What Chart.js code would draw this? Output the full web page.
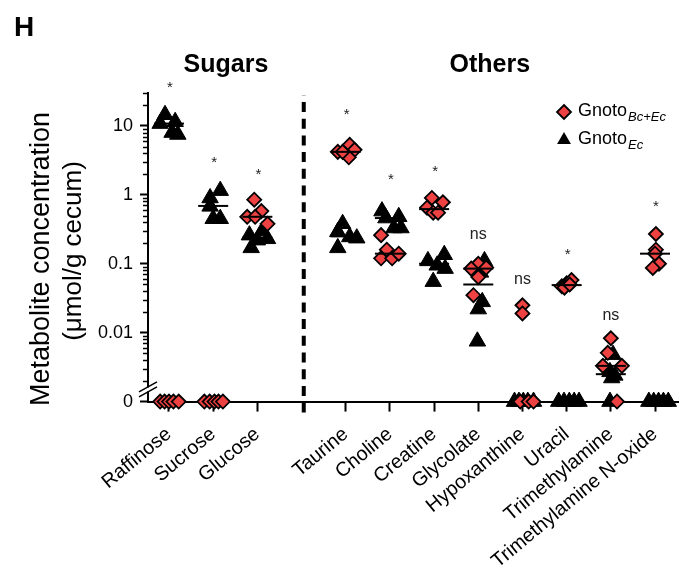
<!DOCTYPE html>
<html>
<head>
<meta charset="utf-8">
<script src="https://cdn.jsdelivr.net/npm/chart.js"></script>
<style>
  html, body { margin: 0; padding: 0; background: #fff; }
  #wrap { position: relative; width: 700px; height: 575px; }
</style>
</head>
<body>
<div id="wrap"><canvas id="chart" width="700" height="575"></canvas></div>
<script>
// categories and their slot on the x axis (slot 3 holds the dashed divider)
const categories = ['Raffinose', 'Sucrose', 'Glucose', 'Taurine', 'Choline', 'Creatine', 'Glycolate', 'Hypoxanthine', 'Uracil', 'Trimethylamine', 'Trimethylamine N-oxide']
const catPos = [0, 1, 2, 4, 5, 6, 7, 8, 9, 10, 11]
const dividerPos = 3.05

// Gnoto Bc+Ec (red diamonds), umol/g cecum, 0 = not detected
const bcValues = [
	[0, 0, 0, 0, 0],
	[0, 0, 0, 0, 0],
	[0.85, 0.58, 0.48, 0.48, 0.38],
	[4.2, 5.3, 4.5, 3.5, 4.2],
	[0.26, 0.16, 0.12, 0.12, 0.14],
	[0.9, 0.78, 0.65, 0.55, 0.55],
	[0.1, 0.085, 0.088, 0.064, 0.035],
	[0.025, 0.019, 0, 0, 0],
	[0.047, 0.052, 0.058, 0.045, 0.05],
	[0.0083, 0.0051, 0.0033, 0.0033, 0],
	[0.27, 0.16, 0.14, 0.1, 0.087],
]
const bcJitter = [
	[-0.2, -0.1, 0, 0.1, 0.22],
	[-0.2, -0.08, 0.03, 0.12, 0.22],
	[-0.07, 0.09, -0.23, -0.05, 0.23],
	[-0.18, 0.09, 0.2, 0.07, -0.07],
	[-0.2, -0.07, -0.2, 0.05, 0.2],
	[-0.05, 0.2, -0.16, -0.02, 0.09],
	[0, -0.16, 0.18, 0, -0.11],
	[0, 0, -0.05, 0.14, 0.25],
	[-0.11, 0, 0.11, -0.05, 0.07],
	[0, -0.07, -0.18, 0.25, 0.14],
	[0.02, 0.02, 0, 0.09, -0.05],
]

// Gnoto Ec (black triangles)
const ecValues = [
	[14.5, 11.5, 10.8, 8, 7.5],
	[1.15, 0.9, 0.68, 0.45, 0.45],
	[0.26, 0.17, 0.3, 0.23, 0.22],
	[0.38, 0.29, 0.17, 0.245, 0.235],
	[0.58, 0.46, 0.48, 0.33, 0.33],
	[0.11, 0.135, 0.095, 0.085, 0.055],
	[0.11, 0.075, 0.028, 0.022, 0.0075],
	[0, 0, 0, 0, 0],
	[0, 0, 0, 0, 0],
	[0.0048, 0.0027, 0.0024, 0.0022, 0],
	[0, 0, 0, 0, 0],
]
const ecJitter = [
	[-0.09, 0.14, -0.2, 0.07, 0.2],
	[0.16, -0.07, -0.07, 0, 0.16],
	[-0.18, -0.14, 0.11, 0.23, 0],
	[-0.07, -0.18, -0.18, 0.09, 0.25],
	[-0.18, -0.09, 0.2, 0.09, 0.25],
	[-0.14, 0.23, 0.07, 0.25, -0.02],
	[0.14, 0.05, 0.09, 0, -0.02],
	[-0.18, -0.08, 0.02, 0.12, 0.25],
	[-0.18, -0.06, 0.06, 0.17, 0.28],
	[0.05, -0.02, 0.09, 0.02, -0.02],
	[-0.14, -0.03, 0.08, 0.19, 0.3],
]

// medians (null = sits on the zero line, not shown)
const bcMedian = [null, null, 0.48, 4.2, 0.14, 0.62, 0.085, null, 0.049, 0.0033, 0.14]
const ecMedian = [10.8, 0.69, 0.24, 0.25, 0.46, 0.1, 0.05, null, null, 0.0025, null]

// significance marks above each metabolite
const sigLabels = ['*', '*', '*', '*', '*', '*', 'ns', 'ns', '*', 'ns', '*']
const sigValues = [39, 3.2, 2.15, 16, 1.82, 2.38, 0.262, 0.058, 0.148, 0.0175, 0.74]

// y axis: the bottom of the log axis stands in for zero
const yMin = 0.001
const yMax = 30
const yMajor = [0.001, 0.01, 0.1, 1, 10]
const yMajorLabels = ['0', '0.01', '0.1', '1', '10']
const minorDecades = [0.001, 0.01, 0.1, 1]
const minorSteps = [2, 3, 4, 5, 6, 7, 8, 9]
const minorTop = [20, 30]
const breakAt = 0.0015

const groupTitles = ['Sugars', 'Others']
const groupTitlePos = [1.29, 7.26]

const FONT = "'Liberation Sans', Arial, Helvetica, sans-serif"
const RED = '#ee4242'

function toPoints(values, jitter) {
	const out = []
	values.forEach((group, i) => {
		group.forEach((v, j) => {
			out.push({ x: catPos[i] + jitter[i][j], y: v === 0 ? yMin : v })
		})
	})
	return out
}

function toMedians(meds) {
	const out = []
	meds.forEach((m, i) => {
		if (m !== null) out.push({ x: catPos[i], y: m })
	})
	return out
}

// extra drawing: minor ticks, axis break, divider, labels, legend
const decor = {
	id: 'decor',
	afterDraw(chart) {
		const ctx = chart.ctx
		const x = chart.scales.x
		const y = chart.scales.y
		const area = chart.chartArea
		ctx.save()

		// minor ticks
		ctx.strokeStyle = '#000'
		ctx.lineWidth = 1.5
		const minors = []
		minorDecades.forEach((d) => minorSteps.forEach((s) => minors.push(d * s)))
		minorTop.forEach((v) => minors.push(v))
		minors.forEach((v) => {
			const py = Math.round(y.getPixelForValue(v)) + 0.5
			ctx.beginPath()
			ctx.moveTo(area.left - 5, py)
			ctx.lineTo(area.left, py)
			ctx.stroke()
		})

		// axis break
		const by = y.getPixelForValue(breakAt)
		ctx.fillStyle = '#fff'
		ctx.fillRect(area.left - 2, by - 2, 4, 4)
		ctx.lineWidth = 1.5
		;[-2.5, 2.5].forEach((d) => {
			ctx.beginPath()
			ctx.moveTo(area.left - 9, by + d + 5)
			ctx.lineTo(area.left + 9, by + d - 5)
			ctx.stroke()
		})

		// dashed divider between sugars and others
		const dx = x.getPixelForValue(dividerPos)
		ctx.lineWidth = 4
		ctx.setLineDash([10, 6.7])
		ctx.beginPath()
		ctx.moveTo(dx, area.bottom + 11)
		ctx.lineTo(dx, area.top + 2)
		ctx.stroke()
		ctx.setLineDash([])

		// significance marks
		ctx.fillStyle = '#222'
		ctx.textAlign = 'center'
		ctx.textBaseline = 'middle'
		sigLabels.forEach((t, i) => {
			const px = x.getPixelForValue(catPos[i])
			const py = y.getPixelForValue(sigValues[i])
			if (t === '*') {
				ctx.font = `15px ${FONT}`
				ctx.fillText(t, px + 1, py + 3)
			} else {
				ctx.font = `16px ${FONT}`
				ctx.fillText(t, px, py)
			}
		})

		// group titles
		ctx.fillStyle = '#000'
		ctx.textBaseline = 'alphabetic'
		ctx.font = `bold 25px ${FONT}`
		groupTitles.forEach((t, i) => {
			ctx.fillText(t, x.getPixelForValue(groupTitlePos[i]), 72)
		})

		// panel letter
		ctx.textAlign = 'left'
		ctx.font = `bold 28px ${FONT}`
		ctx.fillText('H', 14, 36)

		// y axis title
		ctx.save()
		ctx.translate(49, 259)
		ctx.rotate(-Math.PI / 2)
		ctx.textAlign = 'center'
		ctx.font = `27px ${FONT}`
		ctx.fillText('Metabolite concentration', 0, 0)
		ctx.restore()
		ctx.save()
		ctx.translate(81, 251)
		ctx.rotate(-Math.PI / 2)
		ctx.textAlign = 'center'
		ctx.font = `26px ${FONT}`
		ctx.fillText('(μmol/g cecum)', 0, 0)
		ctx.restore()

		// legend
		const lx = 564
		ctx.lineWidth = 1.8
		ctx.fillStyle = RED
		ctx.beginPath()
		ctx.moveTo(lx, 112 - 7)
		ctx.lineTo(lx + 7, 112)
		ctx.lineTo(lx, 112 + 7)
		ctx.lineTo(lx - 7, 112)
		ctx.closePath()
		ctx.fill()
		ctx.stroke()
		ctx.fillStyle = '#000'
		const tr = 8
		ctx.beginPath()
		ctx.moveTo(lx, 140 - tr)
		ctx.lineTo(lx + tr * 0.866, 140 + tr / 2)
		ctx.lineTo(lx - tr * 0.866, 140 + tr / 2)
		ctx.closePath()
		ctx.fill()

		ctx.textAlign = 'left'
		ctx.font = `18px ${FONT}`
		ctx.fillText('Gnoto', 578, 116)
		ctx.fillText('Gnoto', 578, 144)
		const gw = ctx.measureText('Gnoto').width
		ctx.font = `italic 13px ${FONT}`
		ctx.fillText('Bc+Ec', 578 + gw + 1, 121)
		ctx.fillText('Ec', 578 + gw + 1, 149)

		ctx.restore()
	},
}

const ctx = document.getElementById('chart').getContext('2d')
new Chart(ctx, {
	type: 'scatter',
	data: {
		datasets: [
			{
				label: 'Gnoto Ec',
				data: toPoints(ecValues, ecJitter),
				pointStyle: 'triangle',
				pointRadius: 9.5,
				pointHoverRadius: 9.5,
				pointBackgroundColor: '#000',
				pointBorderColor: '#000',
				pointBorderWidth: 1,
				order: 3,
				clip: false,
			},
			{
				label: 'Gnoto Bc+Ec',
				data: toPoints(bcValues, bcJitter),
				pointStyle: 'rectRot',
				pointRadius: 7,
				pointHoverRadius: 7,
				pointBackgroundColor: RED,
				pointBorderColor: '#000',
				pointBorderWidth: 1.8,
				order: 2,
				clip: false,
			},
			{
				label: 'median Ec',
				data: toMedians(ecMedian),
				pointStyle: 'line',
				pointRadius: 15,
				pointBorderColor: '#000',
				pointBorderWidth: 2,
				order: 1,
				clip: false,
			},
			{
				label: 'median Bc+Ec',
				data: toMedians(bcMedian),
				pointStyle: 'line',
				pointRadius: 15,
				pointBorderColor: '#000',
				pointBorderWidth: 2,
				order: 0,
				clip: false,
			},
		],
	},
	options: {
		responsive: false,
		animation: false,
		events: [],
		layout: { padding: { top: 93, right: 22, left: 0, bottom: 0 } },
		plugins: {
			legend: { display: false },
			tooltip: { enabled: false },
		},
		scales: {
			x: {
				type: 'linear',
				min: -0.475,
				max: 11.52,
				afterBuildTicks: (scale) => {
					scale.ticks = catPos.map((v) => ({ value: v }))
				},
				afterFit: (scale) => {
					scale.height = 173.4
				},
				ticks: {
					callback: (value, index) => categories[index],
					minRotation: 39.5,
					maxRotation: 39.5,
					autoSkip: false,
					padding: 11,
					color: '#000',
					font: { family: FONT, size: 19.8 },
				},
				grid: {
					drawOnChartArea: false,
					drawTicks: true,
					tickLength: 10,
					tickColor: '#000',
					tickWidth: 2,
				},
				border: { display: true, color: '#000', width: 2 },
			},
			y: {
				type: 'logarithmic',
				min: yMin,
				max: yMax,
				afterBuildTicks: (scale) => {
					scale.ticks = yMajor.map((v) => ({ value: v, major: true }))
				},
				afterFit: (scale) => {
					scale.width = 148
				},
				ticks: {
					callback: (value, index) => yMajorLabels[index],
					autoSkip: false,
					padding: 7,
					color: '#000',
					font: { family: FONT, size: 18 },
				},
				grid: {
					drawOnChartArea: false,
					drawTicks: true,
					tickLength: 8,
					tickColor: '#000',
					tickWidth: 2,
				},
				border: { display: true, color: '#000', width: 2 },
			},
		},
	},
	plugins: [decor],
})
</script>
</body>
</html>
